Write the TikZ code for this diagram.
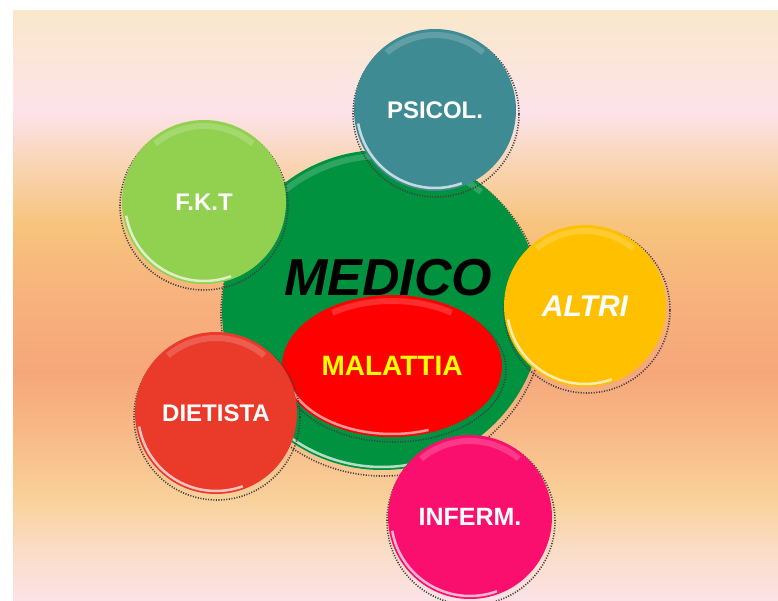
\documentclass[tikz,border=0pt]{standalone}
\usepackage{fontspec}
\setmainfont{Liberation Sans}
\usetikzlibrary{shapes.geometric}

% background colours, top to bottom
\definecolor{bga}{HTML}{FAE8CB}
\definecolor{bgb}{HTML}{FCE3EA}
\definecolor{bgc}{HTML}{F9D6B8}
\definecolor{bgd}{HTML}{F7C47D}
\definecolor{bge}{HTML}{F7B17D}
\definecolor{bgf}{HTML}{F6A77A}
\definecolor{bgg}{HTML}{F8BA88}
\definecolor{bgh}{HTML}{F9D19A}
\definecolor{bgi}{HTML}{FADDC6}
\definecolor{bgj}{HTML}{FCE2E6}
% bubbles
\definecolor{medgreen}{HTML}{00923F}
\definecolor{tealc}{HTML}{3F8B94}
\definecolor{fktgreen}{HTML}{92D050}
\definecolor{altriyellow}{HTML}{FFC000}
\definecolor{dietred}{HTML}{EA3A2A}
\definecolor{infpink}{HTML}{FA0E6E}
\definecolor{redoval}{HTML}{FF0000}
\definecolor{maltext}{HTML}{FFFF00}

\tikzset{
  bubble/.style={circle, inner sep=0pt, minimum size=2*#1, text=white,
    font=\bfseries\fontsize{24}{24}\selectfont,
    path picture={
      \draw[white, opacity=.7, line width=2.5pt]
        (path picture bounding box.center) ++(190:#1-3) arc (190:290:#1-3);
      \draw[white, opacity=.18, line width=6pt]
        (path picture bounding box.center) ++(50:#1-6) arc (50:130:#1-6);
    }},
  dotring/.style={draw=black!75, line width=1.6pt, dash pattern=on 1.1pt off 1.5pt},
}

\begin{document}
\begin{tikzpicture}[x=1pt,y=1pt]
\useasboundingbox (0,0) rectangle (778,600);
\fill[white] (0,0) rectangle (778,600);

% background
\foreach \ya/\yb/\ca/\cb in {488/589/bgb/bga, 440/488/bgc/bgb, 375/440/bgd/bgc,
  300/375/bge/bgd, 228/300/bgf/bge, 165/228/bgg/bgf, 100/165/bgh/bgg,
  50/100/bgi/bgh, 0/50/bgj/bgi}
  \shade[top color=\cb, bottom color=\ca] (13,\ya) rectangle (778,\yb+0.5);

% medico
\draw[dotring] (383,286) circle (162);
\node[bubble=160, fill=medgreen] (medico) at (382,290) {};

\draw[dotring] (436,486) circle (83);
\node[bubble=81, fill=tealc] (psicol) at (435,490) {PSICOL.};

\draw[dotring] (204,394) circle (84);
\node[bubble=82, fill=fktgreen] (fkt) at (204,398) {F.K.T};

\draw[dotring] (587,290) circle (83);
\node[bubble=81, fill=altriyellow, font=\bfseries\itshape\fontsize{30}{30}\selectfont] (altri) at (585,294) {ALTRI};

\node[font=\bfseries\itshape\fontsize{52}{52}\selectfont] (medicotxt) at (388,322) {MEDICO};

% malattia
\draw[dotring] (394,230) ellipse (112 and 72);
\node[ellipse, inner sep=0pt, minimum width=220, minimum height=142, fill=redoval,
  text=maltext, font=\bfseries\fontsize{28}{28}\selectfont,
  path picture={
    \draw[white, opacity=.6, line width=2.5pt]
      (path picture bounding box.center) ++(190:107 and 68) arc (190:290:107 and 68);
    \draw[white, opacity=.18, line width=6pt]
      (path picture bounding box.center) ++(55:104 and 65) arc (55:125:104 and 65);
  }] (malattia) at (392,234) {MALATTIA};

\draw[dotring] (217,183) circle (83);
\node[bubble=81, fill=dietred] (dietista) at (216,187) {DIETISTA};

\draw[dotring] (471,79) circle (84);
\node[bubble=82, fill=infpink, font=\bfseries\fontsize{25}{25}\selectfont] (inferm) at (470,83) {INFERM.};
\end{tikzpicture}
\end{document}
